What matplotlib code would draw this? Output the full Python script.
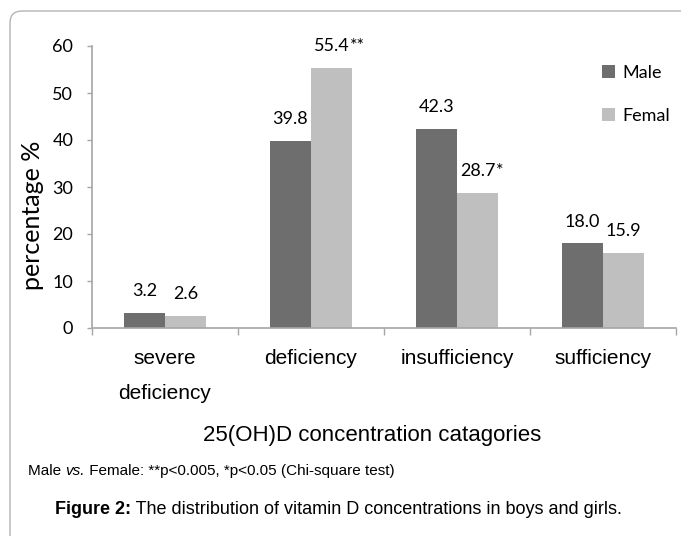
import numpy as np
import matplotlib
matplotlib.use("Agg")
import matplotlib.pyplot as plt
from matplotlib.patches import FancyBboxPatch

categories = ["severe\ndeficiency", "deficiency", "insufficiency", "sufficiency"]
male = [3.2, 39.8, 42.3, 18.0]
female = [2.6, 55.4, 28.7, 15.9]
male_labels = ["3.2", "39.8", "42.3", "18.0"]
female_labels = ["2.6", "55.4", "28.7", "15.9"]
female_stars = ["", "**", "*", ""]
yticks = [0, 10, 20, 30, 40, 50, 60]

male_color = "#6e6e6e"
female_color = "#bfbfbf"
axis_color = "#a6a6a6"
num_font = ["Lato", "DejaVu Sans"]
txt_font = ["Liberation Sans", "DejaVu Sans"]

W, H = 681, 536
fig = plt.figure(figsize=(W / 100, H / 100), dpi=100)

# rounded frame, open at right and bottom
frame = FancyBboxPatch((0.10, -0.3), 7.5, 5.55,
                       boxstyle="round,pad=0,rounding_size=0.12",
                       transform=fig.dpi_scale_trans, facecolor="none",
                       edgecolor="#b4b4b4", linewidth=1.0)
fig.add_artist(frame)

ax = fig.add_axes([92 / W, 1 - 328 / H, 584 / W, 282 / H])
x = np.arange(len(categories))
w = 0.284
bm = ax.bar(x - w / 2, male, w, color=male_color, label="Male")
bf = ax.bar(x + w / 2, female, w, color=female_color, label="Femal")

ax.set_xlim(-0.5, 3.5)
ax.set_ylim(0, 60)
for s in ["top", "right"]:
    ax.spines[s].set_visible(False)
for s in ["left", "bottom"]:
    ax.spines[s].set_color(axis_color)
    ax.spines[s].set_linewidth(1.2)

ax.set_yticks(yticks)
ax.set_yticklabels([str(v) for v in yticks], family=num_font, fontsize=13)
ax.tick_params(axis="y", direction="out", length=3.5, width=1, color=axis_color, pad=10)

ax.set_xticks(np.arange(-0.5, 4, 1))
ax.set_xticklabels([])
ax.tick_params(axis="x", which="major", direction="out", length=5, width=1, color=axis_color)
ax.set_xticks(x, minor=True)
ax.set_xticklabels(categories, minor=True, fontsize=15, linespacing=2.1)
for lab in ax.get_xticklabels(minor=True):
    lab.set_family(txt_font)
ax.tick_params(axis="x", which="minor", length=0, pad=15)

for rect, lab in zip(bm, male_labels):
    ax.annotate(lab, (rect.get_x() + rect.get_width() / 2, rect.get_height()),
                xytext=(0, 10), textcoords="offset points", ha="center", va="bottom",
                family=num_font, fontsize=13)
for rect, lab, st in zip(bf, female_labels, female_stars):
    t = ax.annotate(lab, (rect.get_x() + rect.get_width() / 2, rect.get_height()),
                    xytext=(0, 10), textcoords="offset points", ha="center", va="bottom",
                    family=num_font, fontsize=13)
    if st:
        ax.annotate(st, xy=(1, 0), xycoords=t, ha="left", va="bottom",
                    family=num_font, fontsize=13)

ax.legend(loc="upper left", bbox_to_anchor=(593 / W, 1 - 56 / H),
          bbox_transform=fig.transFigure, frameon=False, borderpad=0,
          handlelength=0.7, handleheight=0.7, handletextpad=0.4,
          labelspacing=1.5, prop={"family": num_font, "size": 13})

fig.text(33 / W, 1 - 215 / H, "percentage %", rotation=90, ha="center", va="center",
         family=num_font, fontsize=18)
fig.text(372 / W, 1 - 435 / H, "25(OH)D concentration catagories", ha="center", va="center",
         family=txt_font, fontsize=16)

# footnote: pieces with different styles chained one after another
note = [fig.text(28 / W, 1 - 478 / H, "Male ", ha="left", va="bottom",
                 family=txt_font, fontsize=11)]
for s, st in [("vs.", "italic"), (" Female: **p<0.005, *p<0.05 (Chi-square test)", "normal")]:
    note.append(ax.annotate(s, xy=(1, 0), xycoords=note[-1], ha="left", va="bottom",
                            family=txt_font, fontsize=11, style=st, annotation_clip=False))

cap = fig.text(55 / W, 1 - 518 / H, "Figure 2:", ha="left", va="bottom", family=txt_font,
               fontsize=13, weight="bold")
ax.annotate(" The distribution of vitamin D concentrations in boys and girls.", xy=(1, 0),
            xycoords=cap, ha="left", va="bottom", family=txt_font, fontsize=13,
            annotation_clip=False)

fig.savefig("out.png", dpi=100)
